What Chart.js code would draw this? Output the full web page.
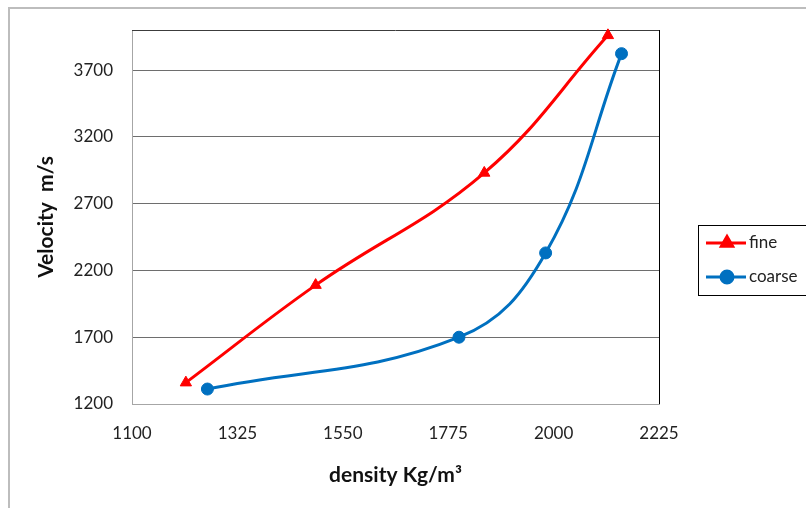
<!DOCTYPE html>
<html>
<head>
<meta charset="utf-8">
<script src="https://cdn.jsdelivr.net/npm/chart.js@4/dist/chart.umd.min.js"></script>
<style>
  html, body { margin: 0; padding: 0; background: #fff; }
  #wrap { position: relative; width: 806px; height: 508px; }
</style>
</head>
<body>
<div id="wrap"><canvas id="grafico" width="806" height="508"></canvas></div>
<script>
// density (Kg/m3) vs velocity (m/s)
const densityFine = [1215, 1492, 1852, 2116];
const velocityFine = [1360, 2090, 2930, 3960];
const densityCoarse = [1261, 1798, 1983, 2145];
const velocityCoarse = [1312, 1700, 2331, 3823];

const xTicks = [1100, 1325, 1550, 1775, 2000, 2225];
const yTicks = [1200, 1700, 2200, 2700, 3200, 3700];

const seriesNames = ["fine", "coarse"];
const seriesColors = ["#ff0000", "#0070c0"];
const seriesMarkers = ["triangle", "circle"];

const tickFont = { family: "Lato", size: 17 };
const titleFont = { family: "Lato", size: 21, weight: "bold" };

function puntos(xs, ys) {
    return xs.map((x, i) => ({ x: x, y: ys[i] }));
}

// frame around the whole chart and the plot area edges
const marcos = {
    id: "marcos",
    beforeDraw(chart) {
        const ctx = chart.ctx;
        ctx.save();
        ctx.fillStyle = "#fff";
        ctx.fillRect(0, 0, chart.width, chart.height);
        ctx.strokeStyle = "#bdbdbd";
        ctx.lineWidth = 2;
        ctx.strokeRect(9, 8, chart.width + 50, chart.height + 50);
        ctx.restore();
    },
    beforeDatasetsDraw(chart) {
        const { ctx, chartArea: a } = chart;
        ctx.save();
        ctx.lineWidth = 1;
        ctx.strokeStyle = "#3c3c3c";
        ctx.beginPath();
        ctx.moveTo(a.left, a.top + 0.5);
        ctx.lineTo(a.right, a.top + 0.5);
        ctx.stroke();
        ctx.strokeStyle = "#000";
        ctx.beginPath();
        ctx.moveTo(a.right + 0.5, a.top);
        ctx.lineTo(a.right + 0.5, a.bottom);
        ctx.stroke();
        ctx.restore();
    }
};

// boxed legend at the right of the plot
const leyenda = {
    id: "leyenda",
    afterDraw(chart) {
        const ctx = chart.ctx;
        const bx = 698, by = 225, bw = 108, bh = 70;
        ctx.save();
        ctx.strokeStyle = "#000";
        ctx.lineWidth = 1;
        ctx.strokeRect(bx + 0.5, by + 0.5, bw, bh);
        ctx.font = "17px Lato";
        ctx.textBaseline = "middle";
        seriesNames.forEach((name, i) => {
            const y = 243 + i * 34;
            ctx.strokeStyle = seriesColors[i];
            ctx.lineWidth = 3;
            ctx.beginPath();
            ctx.moveTo(706, y);
            ctx.lineTo(746, y);
            ctx.stroke();
            Chart.helpers.drawPoint(ctx, {
                pointStyle: seriesMarkers[i],
                radius: seriesMarkers[i] === "triangle" ? 6.5 : 6,
                rotation: 0,
                borderWidth: 1
            }, 727, y);
            ctx.fillStyle = seriesColors[i];
            ctx.fill();
            ctx.fillStyle = "#222";
            ctx.fillText(name, 749, y);
        });
        ctx.restore();
    }
};

function serie(i, xs, ys) {
    return {
        label: seriesNames[i],
        data: puntos(xs, ys),
        borderColor: seriesColors[i],
        backgroundColor: seriesColors[i],
        borderWidth: 3,
        pointStyle: seriesMarkers[i],
        pointRadius: seriesMarkers[i] === "triangle" ? 6.5 : 6,
        pointHoverRadius: 6,
        pointBorderWidth: 1,
        tension: 0.4,
        fill: false,
        clip: false
    };
}

new Chart(document.getElementById("grafico"), {
    type: "line",
    data: {
        datasets: [
            serie(0, densityFine, velocityFine),
            serie(1, densityCoarse, velocityCoarse)
        ]
    },
    options: {
        responsive: false,
        animation: false,
        layout: { padding: { left: 0, top: 30, right: 147, bottom: 0 } },
        plugins: {
            legend: { display: false },
            tooltip: { enabled: false }
        },
        scales: {
            x: {
                type: "linear",
                min: xTicks[0],
                max: xTicks[xTicks.length - 1],
                afterBuildTicks: s => { s.ticks = xTicks.map(v => ({ value: v })); },
                afterFit: s => { s.height = 104; },
                grid: { display: false, drawTicks: false },
                border: { display: true, color: "#a6a6a6", width: 1 },
                ticks: { font: tickFont, color: "#222", padding: 19, maxRotation: 0, callback: v => String(v) },
                title: {
                    display: true,
                    text: "density Kg/m³",
                    font: titleFont,
                    color: "#111",
                    padding: { top: 0, bottom: 20 }
                }
            },
            y: {
                type: "linear",
                min: 1200,
                max: 4000,
                afterBuildTicks: s => { s.ticks = yTicks.map(v => ({ value: v })); },
                afterFit: s => { s.width = 132; },
                grid: { display: true, drawTicks: false, color: "#6e6e6e", lineWidth: 1 },
                border: { display: true, color: "#a6a6a6", width: 1 },
                ticks: { font: tickFont, color: "#222", padding: 19, callback: v => String(v) },
                title: {
                    display: true,
                    text: "Velocity  m/s",
                    font: titleFont,
                    color: "#111",
                    padding: { top: 34, bottom: 0 }
                }
            }
        }
    },
    plugins: [marcos, leyenda]
});
</script>
</body>
</html>
